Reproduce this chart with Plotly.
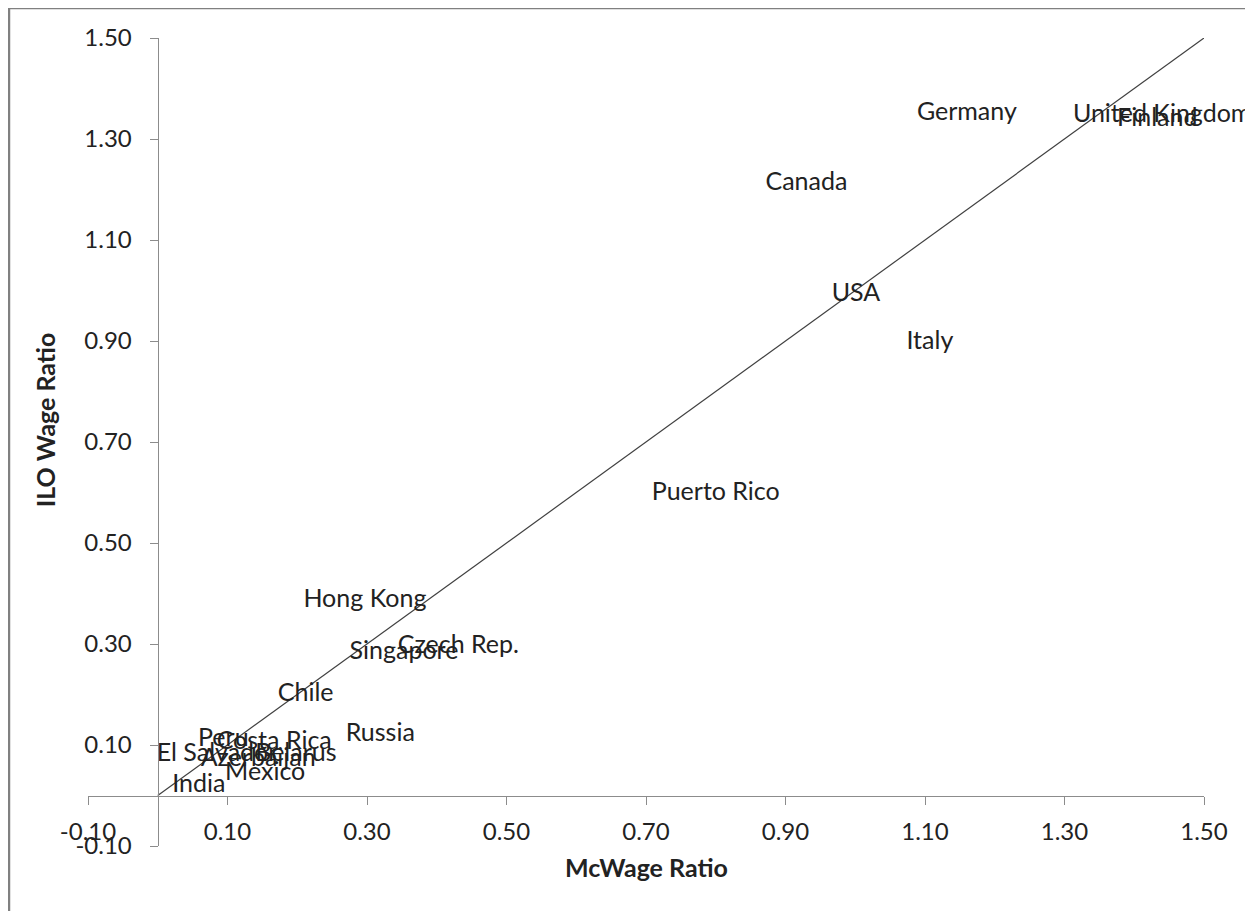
import plotly.graph_objects as go

countries = ["Germany", "United Kingdom", "Finland", "Canada", "USA", "Italy",
             "Puerto Rico", "Hong Kong", "Czech Rep.", "Singapore", "Chile",
             "Russia", "Costa Rica", "Peru", "El Salvador", "Belarus",
             "Azerbaijan", "Mexico", "India"]
mcwage_ratio = [1.160, 1.440, 1.433, 0.930, 1.001, 1.107,
                0.800, 0.297, 0.431, 0.353, 0.212,
                0.319, 0.167, 0.094, 0.085, 0.198,
                0.144, 0.154, 0.059]
ilo_wage_ratio = [1.351, 1.347, 1.339, 1.212, 0.992, 0.897,
                  0.597, 0.385, 0.294, 0.282, 0.199,
                  0.121, 0.105, 0.110, 0.080, 0.080,
                  0.070, 0.044, 0.020]
ref_line_x = [0.0, 1.5]
ref_line_y = [0.0, 1.5]
tick_values = [-0.1, 0.1, 0.3, 0.5, 0.7, 0.9, 1.1, 1.3, 1.5]
tick_labels = ["%.2f" % v for v in tick_values]

FONT = "Lato"
FS = 25
TFS = 24
TXT = "#222222"
axis_min, axis_max = -0.1, 1.5
cross = (0 - axis_min) / (axis_max - axis_min)

fig = go.Figure()
fig.add_trace(go.Scatter(x=ref_line_x, y=ref_line_y, mode="lines",
                         line=dict(color="#404040", width=1.2),
                         hoverinfo="skip", showlegend=False))
fig.add_trace(go.Scatter(x=mcwage_ratio, y=ilo_wage_ratio, mode="text",
                         text=countries, textposition="middle center",
                         textfont=dict(family=FONT, size=FS, color=TXT),
                         cliponaxis=False, showlegend=False))

axis_common = dict(range=[axis_min, axis_max], tickvals=tick_values,
                   ticktext=tick_labels, showgrid=False, zeroline=False,
                   showline=True, linecolor="#8c8c8c", linewidth=1.3,
                   ticks="outside", ticklen=8, tickcolor="#8c8c8c",
                   tickwidth=1.3, anchor="free", position=cross,
                   tickfont=dict(family=FONT, size=TFS, color=TXT))

fig.update_layout(
    width=1245, height=903,
    paper_bgcolor="white", plot_bgcolor="white",
    margin=dict(l=80, r=49, t=30, b=65, autoexpand=False),
    xaxis=dict(**axis_common, ticklabelstandoff=7),
    yaxis=dict(**axis_common, ticklabelstandoff=13),
    annotations=[
        dict(text="<b>McWage Ratio</b>", xref="paper", yref="paper",
             x=0.5, y=-0.026, showarrow=False, xanchor="center", yanchor="middle",
             font=dict(family=FONT, size=FS, color=TXT)),
        dict(text="<b>ILO Wage Ratio</b>", xref="paper", yref="paper",
             x=-0.0385, y=0.527, showarrow=False, textangle=-90,
             xanchor="center", yanchor="middle",
             font=dict(family=FONT, size=FS, color=TXT)),
    ],
    shapes=[dict(type="rect", xref="paper", yref="paper",
                 x0=-0.0708, y0=-0.2, x1=1.2, y1=1.0371,
                 line=dict(color="#808080", width=2.5), layer="below")],
)

fig.write_html("out.html")
